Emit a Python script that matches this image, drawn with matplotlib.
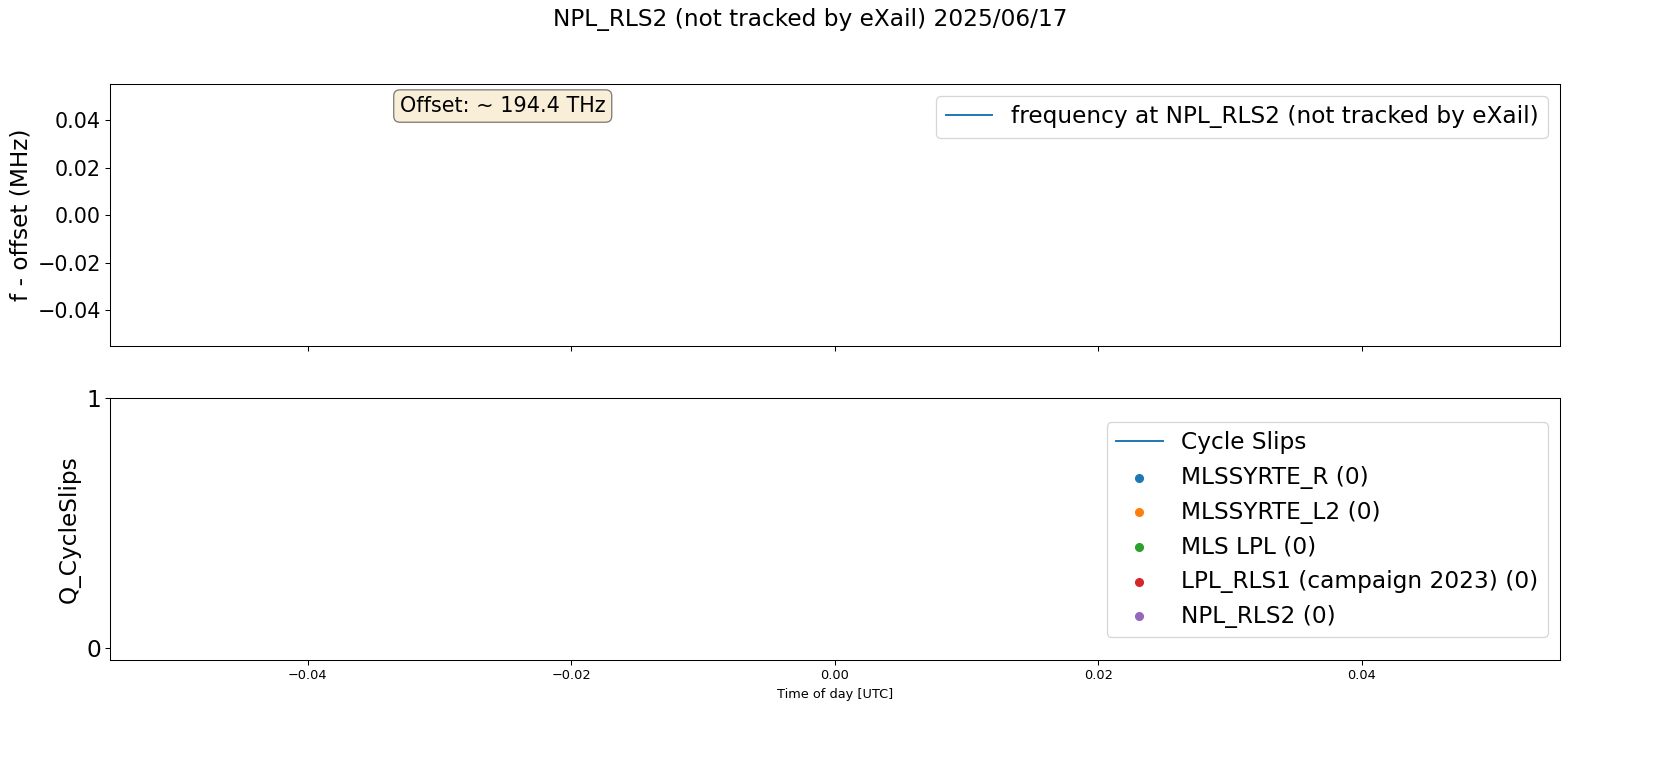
import numpy as np
import matplotlib.pyplot as plt

# No data recorded on this day: all series are empty
time_utc = []
freq_offset_mhz = []
cycle_slips = []
slip_stations = ["MLSSYRTE_R", "MLSSYRTE_L2", "MLS LPL", "LPL_RLS1 (campaign 2023)", "NPL_RLS2"]
slip_times = [[], [], [], [], []]
slip_counts = [0, 0, 0, 0, 0]
station = "NPL_RLS2 (not tracked by eXail)"
date = "2025/06/17"
offset_thz = 194.4

dpi = 93.2
fig, (ax1, ax2) = plt.subplots(2, 1, figsize=(1677 / dpi, 759 / dpi), dpi=dpi, sharex=True)
fig.subplots_adjust(left=0.0656, right=0.930, top=0.889, bottom=0.130, hspace=0.2)
fig.suptitle(f"{station} {date}", fontsize=18, x=0.483, y=0.99)

# Frequency panel
ax1.plot(time_utc, freq_offset_mhz, label=f"frequency at {station}")
ax1.set_ylim(-0.055, 0.055)
ax1.set_ylabel("f - offset (MHz)", fontsize=18)
ax1.tick_params(axis="y", labelsize=16)
ax1.legend(loc="upper right", fontsize=18)
ax1.text(0.2, 0.955, f"Offset: ~ {offset_thz} THz", transform=ax1.transAxes,
         fontsize=16, va="top",
         bbox=dict(boxstyle="round", facecolor="wheat", alpha=0.5))

# Cycle slip panel
ax2.plot(time_utc, cycle_slips, label="Cycle Slips")
for name, t, n in zip(slip_stations, slip_times, slip_counts):
    ax2.scatter(t, np.ones(len(t)), label=f"{name} ({n})")
ax2.set_xlim(-0.055, 0.055)
ax2.set_ylim(-0.05, 1)
ax2.set_yticks([0, 1])
ax2.tick_params(axis="y", labelsize=18)
ax2.set_ylabel("Q_CycleSlips", fontsize=18)
ax2.set_xlabel("Time of day [UTC]")
ax2.legend(loc="center right", fontsize=18)

plt.savefig("out.png", dpi=dpi)
